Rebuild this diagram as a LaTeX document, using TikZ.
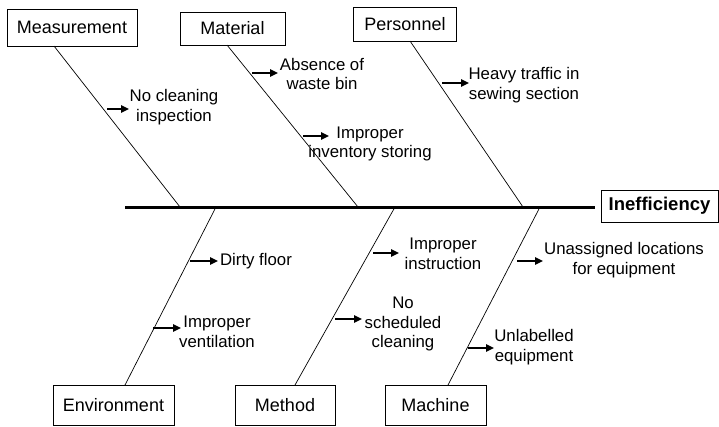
\documentclass[tikz,border=0pt]{standalone}
\usepackage{fontspec}
\setmainfont{Liberation Sans}
\usetikzlibrary{arrows.meta}
\tikzset{
  catbox/.style={draw, line width=0.8pt, inner sep=0pt, font=\fontsize{18}{20}\selectfont},
  effbox/.style={draw, line width=0.8pt, inner sep=0pt, font=\fontsize{18.5}{20}\selectfont\bfseries},
  cause/.style={align=center, inner sep=0pt, font=\fontsize{16.8}{19.5}\selectfont},
  bone/.style={line width=0.7pt},
  spine/.style={line width=3pt},
  smallarr/.style={line width=1.6pt, -{Triangle[length=8pt,width=7.5pt]}}
}
\begin{document}
\begin{tikzpicture}[x=1pt,y=-1pt]
\useasboundingbox (0,0) rectangle (719,426);
% boxes
\node[catbox, minimum width=130pt, minimum height=37pt] (meas) at (72,27.5) {Measurement};
\node[catbox, minimum width=105pt, minimum height=33pt] (mat) at (232.5,28.5) {Material};
\node[catbox, minimum width=103pt, minimum height=34pt] (pers) at (405,24) {Personnel};
\node[effbox, minimum width=117pt, minimum height=32pt] (eff) at (659.5,206) {Inefficiency};
\node[catbox, minimum width=121pt, minimum height=40pt] (env) at (113.5,405) {Environment};
\node[catbox, minimum width=100pt, minimum height=40pt] (meth) at (285,405) {Method};
\node[catbox, minimum width=101pt, minimum height=40pt] (mach) at (435.5,405) {Machine};
% spine
\coordinate (sp0) at (125,207);
\coordinate (sp1) at (595,207);
\draw[spine] (sp0) -- (sp1);
% bones
\coordinate (b1t) at (54,46); \coordinate (b1b) at (180,207);
\coordinate (b2t) at (227,45); \coordinate (b2b) at (358,207);
\coordinate (b3t) at (410,41); \coordinate (b3b) at (523,207);
\coordinate (b4t) at (216,207); \coordinate (b4b) at (125,385);
\coordinate (b5t) at (395,207); \coordinate (b5b) at (295,385);
\coordinate (b6t) at (540,207); \coordinate (b6b) at (448,385);
\draw[bone] (b1t) -- (b1b);
\draw[bone] (b2t) -- (b2b);
\draw[bone] (b3t) -- (b3b);
\draw[bone] (b4t) -- (b4b);
\draw[bone] (b5t) -- (b5b);
\draw[bone] (b6t) -- (b6b);
% cause texts
\node[cause] (c1) at (174,107) {No cleaning\\inspection};
\node[cause] (c2) at (322,74) {Absence of\\waste bin};
\node[cause] (c3) at (370,144) {Improper\\inventory storing};
\node[cause] (c4) at (524,85) {Heavy traffic in\\sewing section};
\node[cause] (c5) at (256,261) {Dirty floor};
\node[cause] (c6) at (217,332) {Improper\\ventilation};
\node[cause] (c7) at (443,254) {Improper\\instruction};
\node[cause] (c8) at (403,324) {No\\scheduled\\cleaning};
\node[cause] (c9) at (624,260) {Unassigned locations\\for equipment};
\node[cause] (c10) at (534,347) {Unlabelled\\equipment};
% arrows
\coordinate (a1s) at (107,109); \coordinate (a1e) at (129,109);
\coordinate (a2s) at (252,73); \coordinate (a2e) at (278,73);
\coordinate (a3s) at (303,136); \coordinate (a3e) at (329,136);
\coordinate (a4s) at (442,83); \coordinate (a4e) at (469,83);
\coordinate (a5s) at (190,261); \coordinate (a5e) at (218,261);
\coordinate (a6s) at (153,328); \coordinate (a6e) at (181,328);
\coordinate (a7s) at (373,253); \coordinate (a7e) at (399,253);
\coordinate (a8s) at (335,319); \coordinate (a8e) at (362,319);
\coordinate (a9s) at (517,261); \coordinate (a9e) at (543,261);
\coordinate (a10s) at (468,348); \coordinate (a10e) at (494,348);
\foreach \i in {1,...,10} \draw[smallarr] (a\i s) -- (a\i e);
\end{tikzpicture}
\end{document}
